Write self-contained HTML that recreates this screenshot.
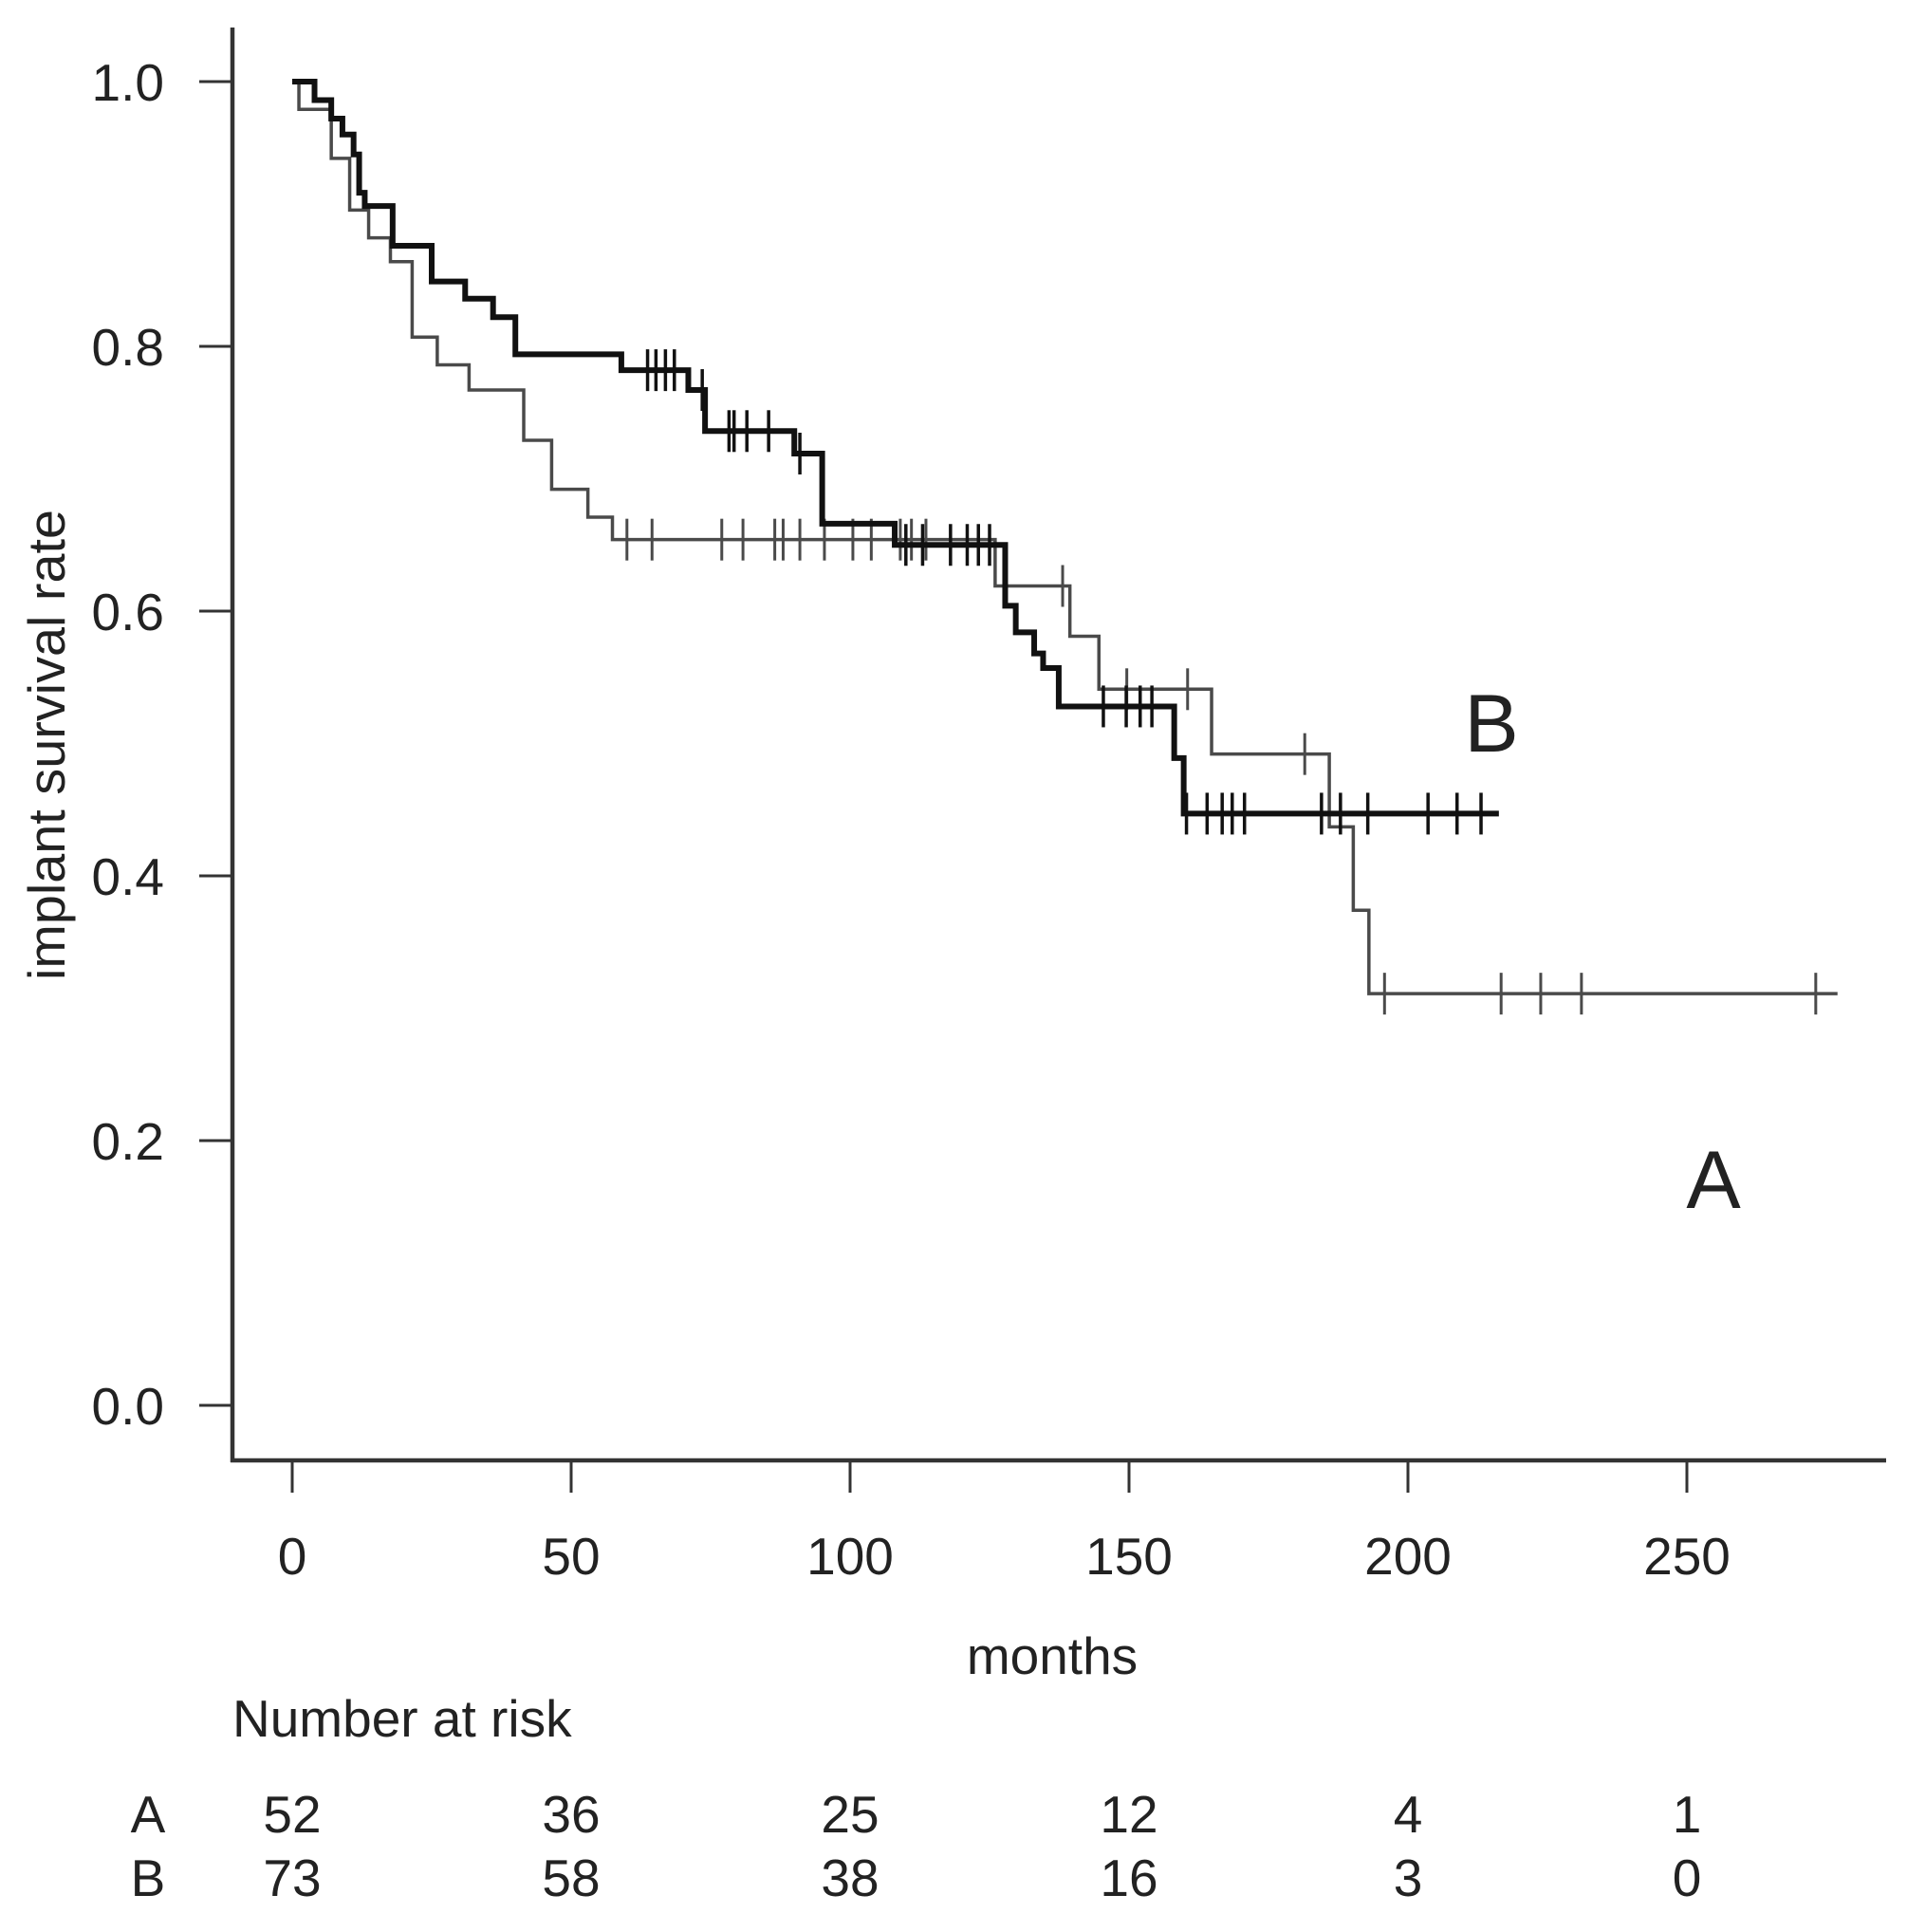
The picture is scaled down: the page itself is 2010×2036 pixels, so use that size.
<!DOCTYPE html>
<html><head><meta charset="utf-8"><style>
html,body{margin:0;padding:0;background:#fff;}
svg{display:block;font-family:"Liberation Sans",Arial,sans-serif;}
</style></head><body>
<svg id="chart" width="2010" height="2036" viewBox="0 0 2010 2036" xmlns="http://www.w3.org/2000/svg">
<rect x="0" y="0" width="2010" height="2036" fill="#fff"/>
<g id="axes"></g>
<g id="series"></g>
<g id="labels"></g>
</svg>
<script>
// ---- data ----
const xTicks = [0, 50, 100, 150, 200, 250];
const yTicks = [0.0, 0.2, 0.4, 0.6, 0.8, 1.0];
const yTickLabels = ["0.0", "0.2", "0.4", "0.6", "0.8", "1.0"];
const timesB = [0,4,7,9,11,12,13,18,25,31,36,40,59,71,74,90,95,108,127.8,129.7,133,134.6,137.4,158.1,159.8];
const survB = [1,0.986,0.972,0.96,0.945,0.916,0.906,0.876,0.849,0.836,0.822,0.794,0.782,0.767,0.736,0.719,0.666,0.650,0.604,0.584,0.568,0.557,0.528,0.489,0.447];
const endB = 216.3;
const censorB = [63.7,65.2,66.9,68.5,73.5,78.3,79.2,81.5,85.4,91,110,113,118,121,123,125,145.4,149.5,152,154.1,160.3,164,166.7,168.5,170.7,184.5,187.9,192.8,203.6,208.8,213.1];
const timesA = [0,1.2,7,10.3,13.7,17.6,21.5,26,31.7,41.5,46.5,53,57.4,126,139.4,144.6,164.8,185.9,190.2,193];
const survA = [1,0.979,0.942,0.903,0.882,0.864,0.807,0.786,0.767,0.729,0.692,0.671,0.654,0.619,0.581,0.541,0.492,0.437,0.374,0.311];
const endA = 277;
const censorA = [60,64.5,77,80.8,86.5,88,91,95.4,100.5,103.8,109,111,113.6,138.1,149.6,160.5,181.5,195.8,216.7,223.8,231.1,273.1];
const riskGroups = ["A", "B"];
const riskA = [52, 36, 25, 12, 4, 1];
const riskB = [73, 58, 38, 16, 3, 0];

// ---- scales ----
const X0 = 308, XS = 5.88, Y0 = 1481, YS = 1395;
const sx = t => X0 + t * XS;
const sy = v => Y0 - v * YS;
const NS = "http://www.w3.org/2000/svg";
function mk(tag, parent, attrs) {
  const e = document.createElementNS(NS, tag);
  for (const k in attrs) e.setAttribute(k, attrs[k]);
  parent.appendChild(e);
  return e;
}
const axes = document.getElementById('axes');
const series = document.getElementById('series');
const labels = document.getElementById('labels');
const AX = 245, AY = 1539, FONT = 55;

// y axis
let yl = mk('line', axes, {x1: AX, y1: 29, x2: AX, y2: AY + 2, stroke: '#333', 'stroke-width': 4.5});


yTicks.forEach((v, i) => {
  const t = mk('line', axes, {x1: 210, y1: sy(v), x2: AX, y2: sy(v), stroke: '#333', 'stroke-width': 3});
  
  
  const tx = mk('text', axes, {x: 173, y: sy(v) + 20, 'text-anchor': 'end', 'font-size': FONT, fill: '#222'});
  tx.textContent = yTickLabels[i];
  
  
});
// x axis
let xl = mk('line', axes, {x1: AX - 2, y1: AY, x2: 1988, y2: AY, stroke: '#333', 'stroke-width': 4.5});


xTicks.forEach(v => {
  const t = mk('line', axes, {x1: sx(v), y1: AY, x2: sx(v), y2: 1573, stroke: '#333', 'stroke-width': 3});
  
  
  const tx = mk('text', axes, {x: sx(v), y: 1659, 'text-anchor': 'middle', 'font-size': FONT, fill: '#222'});
  tx.textContent = String(v);
  
  
});

// series
function drawCurve(times, surv, end, censors, color, width, tickW, name) {
  let d = 'M' + sx(times[0]) + ',' + sy(surv[0]);
  for (let i = 1; i < times.length; i++) {
    d += ' H' + sx(times[i]) + ' V' + sy(surv[i]);
  }
  d += ' H' + sx(end);
  const p = mk('path', series, {d: d, fill: 'none', stroke: color, 'stroke-width': width, 'stroke-linejoin': 'miter'});
  
  
  censors.forEach(c => {
    let v = surv[0];
    for (let i = 0; i < times.length; i++) if (times[i] <= c) v = surv[i];
    const m = mk('line', series, {x1: sx(c), y1: sy(v) - 22, x2: sx(c), y2: sy(v) + 22, stroke: color, 'stroke-width': tickW});
    
    
  });
}
drawCurve(timesA, survA, endA, censorA, '#4a4a4a', 3.5, 3, 'group-a');
drawCurve(timesB, survB, endB, censorB, '#111', 6, 3.5, 'group-b');

// labels
function txt(s, x, y, size, anchor, name, extra) {
  const t = mk('text', labels, Object.assign({x: x, y: y, 'font-size': size, 'text-anchor': anchor, fill: '#222'}, extra || {}));
  t.textContent = s;
  
  
  return t;
}
txt('B', 1572, 792, 86, 'middle', 'group-b-label');
txt('A', 1806, 1273, 86, 'middle', 'group-a-label');
txt('months', 1109, 1764, FONT, 'middle', 'x-axis-title');
txt('implant survival rate', 0, 0, FONT, 'middle', 'y-axis-title', {transform: 'translate(68,785) rotate(-90)', textLength: 496, lengthAdjust: 'spacingAndGlyphs'});
txt('Number at risk', 245, 1830, FONT, 'start', 'risk-table-title');
const rowsY = [1931, 1998];
[riskA, riskB].forEach((row, r) => {
  txt(riskGroups[r], 156, rowsY[r], FONT, 'middle', 'risk-row-label-' + riskGroups[r].toLowerCase());
  row.forEach((n, i) => {
    txt(String(n), sx(xTicks[i]), rowsY[r], FONT, 'middle', 'risk-count');
  });
});
</script>
</body></html>
